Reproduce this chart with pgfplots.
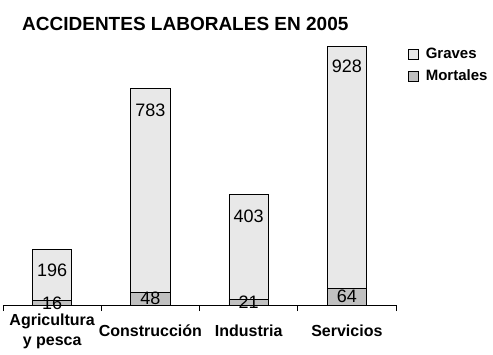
\documentclass[border=0pt]{standalone}
\usepackage{pgfplots}
\pgfplotsset{compat=1.18}
\usepackage{fontspec}
\setmainfont{Liberation Sans}
\definecolor{graves}{RGB}{232,232,232}
\definecolor{mortales}{RGB}{192,192,192}
\newcommand{\legfont}{\fontsize{15}{17}\selectfont\bfseries}

\begin{document}
\begin{tikzpicture}
\begin{axis}[
 scale only axis, width=393pt, height=261pt,
 ybar stacked, bar width=0.4,
 xmin=-0.5, xmax=3.5, ymin=0, ymax=1000,
 enlargelimits=false, clip=false,
 axis x line*=bottom, axis y line=none,
 xtick={0,1,2,3},
 xticklabels={{Agricultura\\y pesca},Construcción,Industria,Servicios},
 xticklabel style={align=center, anchor=center, yshift=-26pt, font=\bfseries\fontsize{16}{20}\selectfont},
 major tick length=0pt,
 extra x ticks={-0.5,0.5,1.5,2.5,3.5},
 extra x tick labels={},
 extra x tick style={major tick length=6pt, tick align=outside, tick style={black, line width=0.8pt}},
 axis line style={black, line width=0.8pt},
 reverse legend,
 legend style={at={(1.03,0.987)}, anchor=north west, draw=none, fill=none, inner sep=0pt,
   row sep=8pt, column sep=7pt,
   nodes={inner sep=0pt, text height=11pt, text depth=3pt}},
 legend cell align=left,
 legend image code/.code={\draw[#1] (0pt,-5pt) rectangle (10pt,5pt);},
 point meta=explicit symbolic,
 visualization depends on={\thisrow{sh} \as \sh},
 nodes near coords,
 nodes near coords style={font=\fontsize{18}{20}\selectfont, anchor=center, black, yshift=\sh pt},
]
\addplot[fill=mortales, draw=black, line width=0.8pt]
  table[x=x, y=y, meta=lab] {
x y lab sh
0 16 16 0
1 48 48 0
2 21 21 0
3 64 64 0
};
\addplot[fill=graves, draw=black, line width=0.8pt]
  table[x=x, y=y, meta=lab] {
x y lab sh
0 196 196 4.6
1 783 783 80.2
2 403 403 31.0
3 928 928 100.6
};
\legend{{\legfont Mortales}, {\legfont Graves}}
\coordinate (O) at (rel axis cs:0,0);
\end{axis}
\path (O) ++(19pt,274pt) node[anchor=base west, inner sep=0pt, font=\bfseries\fontsize{19}{22}\selectfont]{ACCIDENTES LABORALES EN 2005};
\pgfresetboundingbox
\path (O) ++(-3pt,-49pt) rectangle ++(493pt,354pt);
\end{tikzpicture}
\end{document}
